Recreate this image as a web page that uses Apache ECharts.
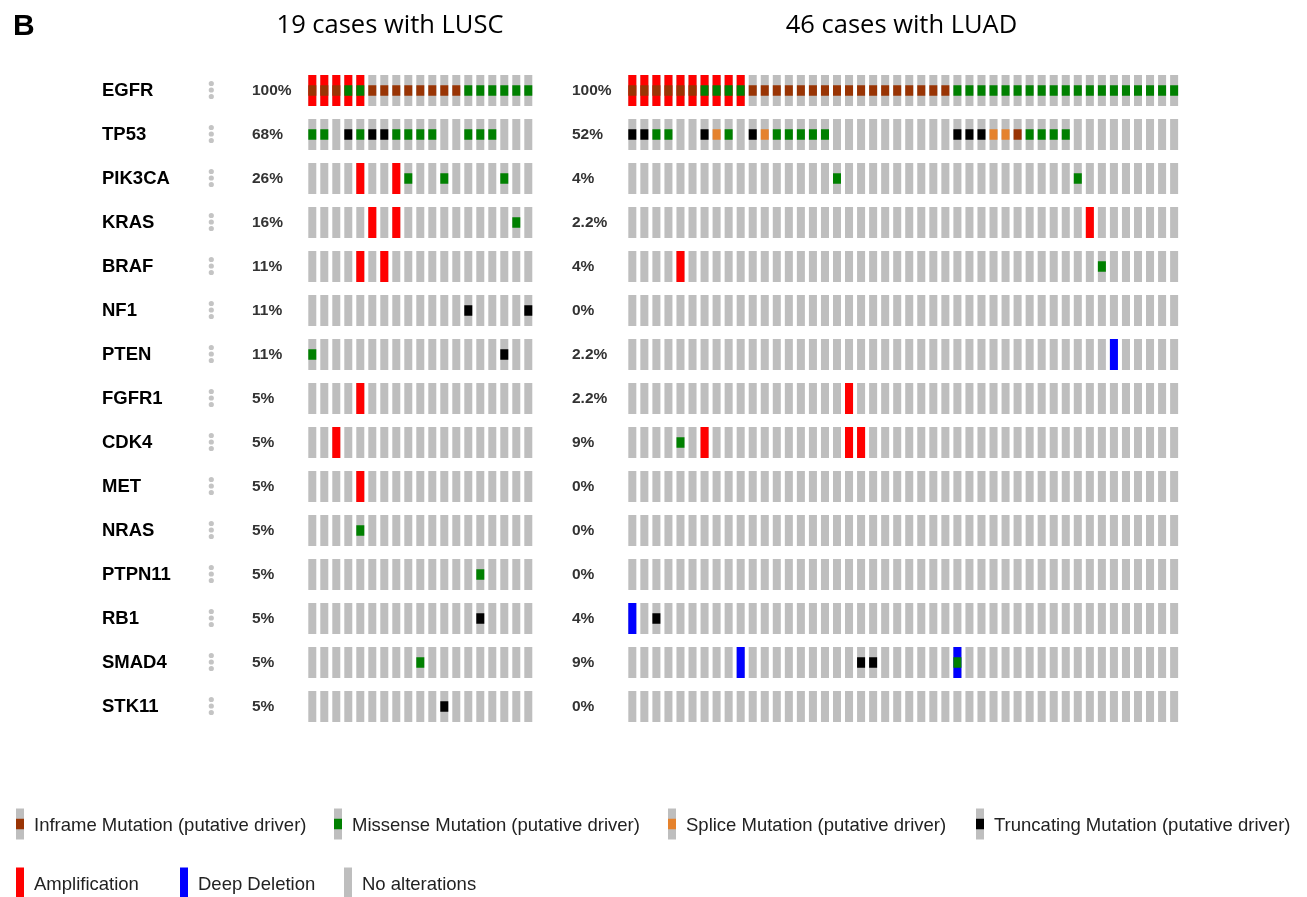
<!DOCTYPE html>
<html>
<head>
<meta charset="utf-8">
<script src="https://cdn.jsdelivr.net/npm/echarts@6/dist/echarts.min.js"></script>
<style>
  html, body { margin: 0; padding: 0; background: #ffffff; }
  #chart { width: 1307px; height: 897px; }
</style>
</head>
<body>
<div id="chart"></div>
<script>
// ---- data ----------------------------------------------------------------
const genes = ['EGFR', 'TP53', 'PIK3CA', 'KRAS', 'BRAF', 'NF1', 'PTEN', 'FGFR1',
               'CDK4', 'MET', 'NRAS', 'PTPN11', 'RB1', 'SMAD4', 'STK11'];

const luscCaseCount = 19;
const luadCaseCount = 46;

const luscPercent = ['100%', '68%', '26%', '16%', '11%', '11%', '11%', '5%',
                     '5%', '5%', '5%', '5%', '5%', '5%', '5%'];
const luadPercent = ['100%', '52%', '4%', '2.2%', '4%', '0%', '2.2%', '2.2%',
                     '9%', '0%', '0%', '0%', '4%', '9%', '0%'];

// [gene, alteration, case indices]
const luscAlterations = [
  ['EGFR', 'AMP', [0, 1, 2, 3, 4]],
  ['EGFR', 'INFRAME', [0, 1, 2, 5, 6, 7, 8, 9, 10, 11, 12]],
  ['EGFR', 'MISSENSE', [3, 4, 13, 14, 15, 16, 17, 18]],
  ['TP53', 'MISSENSE', [0, 1, 4, 7, 8, 9, 10, 13, 14, 15]],
  ['TP53', 'TRUNC', [3, 5, 6]],
  ['PIK3CA', 'AMP', [4, 7]],
  ['PIK3CA', 'MISSENSE', [8, 11, 16]],
  ['KRAS', 'AMP', [5, 7]],
  ['KRAS', 'MISSENSE', [17]],
  ['BRAF', 'AMP', [4, 6]],
  ['NF1', 'TRUNC', [13, 18]],
  ['PTEN', 'MISSENSE', [0]],
  ['PTEN', 'TRUNC', [16]],
  ['FGFR1', 'AMP', [4]],
  ['CDK4', 'AMP', [2]],
  ['MET', 'AMP', [4]],
  ['NRAS', 'MISSENSE', [4]],
  ['PTPN11', 'MISSENSE', [14]],
  ['RB1', 'TRUNC', [14]],
  ['SMAD4', 'MISSENSE', [9]],
  ['STK11', 'TRUNC', [11]]
];

const luadAlterations = [
  ['EGFR', 'AMP', [0, 1, 2, 3, 4, 5, 6, 7, 8, 9]],
  ['EGFR', 'INFRAME', [0, 1, 2, 3, 4, 5, 10, 11, 12, 13, 14, 15, 16, 17, 18, 19,
                       20, 21, 22, 23, 24, 25, 26]],
  ['EGFR', 'MISSENSE', [6, 7, 8, 9, 27, 28, 29, 30, 31, 32, 33, 34, 35, 36, 37,
                        38, 39, 40, 41, 42, 43, 44, 45]],
  ['TP53', 'TRUNC', [0, 1, 6, 10, 27, 28, 29]],
  ['TP53', 'MISSENSE', [2, 3, 8, 12, 13, 14, 15, 16, 33, 34, 35, 36]],
  ['TP53', 'SPLICE', [7, 11, 30, 31]],
  ['TP53', 'INFRAME', [32]],
  ['PIK3CA', 'MISSENSE', [17, 37]],
  ['KRAS', 'AMP', [38]],
  ['BRAF', 'AMP', [4]],
  ['BRAF', 'MISSENSE', [39]],
  ['PTEN', 'HOMDEL', [40]],
  ['FGFR1', 'AMP', [18]],
  ['CDK4', 'AMP', [6, 18, 19]],
  ['CDK4', 'MISSENSE', [4]],
  ['RB1', 'HOMDEL', [0]],
  ['RB1', 'TRUNC', [2]],
  ['SMAD4', 'HOMDEL', [9, 27]],
  ['SMAD4', 'TRUNC', [19, 20]],
  ['SMAD4', 'MISSENSE', [27]]
];

const alterationCodes = ['AMP', 'HOMDEL', 'INFRAME', 'MISSENSE', 'SPLICE', 'TRUNC'];
const alterationColors = ['#ff0000', '#0000ff', '#993404', '#008000', '#e5822d', '#000000'];
const noAlterationColor = '#bebebe';

// legend rows: [label, alteration code or 'NONE']
const legendRow1 = [
  ['Inframe Mutation (putative driver)', 'INFRAME'],
  ['Missense Mutation (putative driver)', 'MISSENSE'],
  ['Splice Mutation (putative driver)', 'SPLICE'],
  ['Truncating Mutation (putative driver)', 'TRUNC']
];
const legendRow2 = [
  ['Amplification', 'AMP'],
  ['Deep Deletion', 'HOMDEL'],
  ['No alterations', 'NONE']
];

// ---- layout --------------------------------------------------------------
const PITCH_LUSC = 12.0;
const PITCH_LUAD = 12.04;
const GRID_TOP = 68.5;
const ROW_PITCH = 44;
const LUSC_LEFT = 306.3;
const LUAD_LEFT = 626.3;
const CELL_W = 8 / 12;      // fraction of a column band
const CELL_H = 31 / 44;     // fraction of a row band
const MUT_H = 10.5 / 44;    // fraction of a row band
const LEGEND_X1 = [16, 334, 668, 976];
const LEGEND_X2 = [16, 180, 344];
const LEGEND_Y1 = 824;
const LEGEND_Y2 = 883;
const LEGEND_FONT = '18.5px "Liberation Sans", Arial, sans-serif';
const TITLE_FONT = '25.5px "Open Sans", sans-serif';

const isCNA = code => code === 'AMP' || code === 'HOMDEL';

function range(n) { return Array.from({ length: n }, (_, i) => i); }

function backgroundCells(n) {
  const out = [];
  genes.forEach((g, gi) => range(n).forEach(c => out.push([c, gi])));
  return out;
}

function alterationCells(list, wantCNA) {
  const out = [];
  list.forEach(([gene, code, cases]) => {
    if (isCNA(code) !== wantCNA) return;
    const gi = genes.indexOf(gene);
    const ti = alterationCodes.indexOf(code);
    cases.forEach(c => out.push([c, gi, ti]));
  });
  return out;
}

function cellRenderer(kind) {
  return function (params, api) {
    const p = api.coord([api.value(0), api.value(1)]);
    const band = api.size([1, 1]);
    const w = band[0] * CELL_W;
    const fullH = band[1] * CELL_H;
    const h = kind === 'mut' ? band[1] * MUT_H : fullH;
    const fill = kind === 'bg' ? noAlterationColor : alterationColors[api.value(2)];
    return {
      type: 'rect',
      shape: { x: p[0] - w / 2, y: p[1] - h / 2, width: w, height: h },
      style: { fill: fill }
    };
  };
}

function cohortSeries(xIdx, yIdx, n, list) {
  return [
    { type: 'custom', xAxisIndex: xIdx, yAxisIndex: yIdx, renderItem: cellRenderer('bg'),
      data: backgroundCells(n), silent: true, z: 1 },
    { type: 'custom', xAxisIndex: xIdx, yAxisIndex: yIdx, renderItem: cellRenderer('cna'),
      data: alterationCells(list, true), silent: true, z: 2 },
    { type: 'custom', xAxisIndex: xIdx, yAxisIndex: yIdx, renderItem: cellRenderer('mut'),
      data: alterationCells(list, false), silent: true, z: 3 }
  ];
}

// three grey dots next to each gene name
const menuDots = {
  type: 'custom', xAxisIndex: 0, yAxisIndex: 0, silent: true, clip: false, z: 4,
  data: genes.map((g, i) => [0, i]),
  renderItem: function (params, api) {
    const p = api.coord([0, api.value(1)]);
    const x = LUSC_LEFT - 95;
    return {
      type: 'group',
      children: [-7, -0.5, 6].map(dy => ({
        type: 'circle', shape: { cx: x, cy: p[1] + dy, r: 2.6 },
        style: { fill: '#c4c4c4' }
      }))
    };
  }
};

function legendGraphics(row, xs, yc) {
  const out = [];
  row.forEach(([label, code], i) => {
    const x = xs[i];
    const full = code === 'NONE' || isCNA(code);
    const iconH = 31, iconW = 8;
    const bgFill = code === 'NONE' ? noAlterationColor
                 : (isCNA(code) ? alterationColors[alterationCodes.indexOf(code)] : noAlterationColor);
    out.push({ type: 'rect', left: x, top: yc - iconH / 2,
      shape: { width: iconW, height: iconH }, style: { fill: bgFill } });
    if (!full) {
      out.push({ type: 'rect', left: x, top: yc - 5.25,
        shape: { width: iconW, height: 10.5 },
        style: { fill: alterationColors[alterationCodes.indexOf(code)] } });
    }
    out.push({ type: 'text', x: x + 18, y: yc + 2,
      style: { text: label, fill: '#222', font: LEGEND_FONT, textVerticalAlign: 'middle' } });
  });
  return out;
}

const hiddenCategoryX = (n, gridIndex) => ({
  type: 'category', gridIndex: gridIndex, data: range(n).map(String),
  show: false, boundaryGap: true
});

const labelFont = '"Liberation Sans", Arial, sans-serif';

const option = {
  backgroundColor: '#ffffff',
  animation: false,
  grid: [
    { left: LUSC_LEFT, top: GRID_TOP, width: PITCH_LUSC * luscCaseCount, height: ROW_PITCH * genes.length },
    { left: LUAD_LEFT, top: GRID_TOP, width: PITCH_LUAD * luadCaseCount, height: ROW_PITCH * genes.length }
  ],
  xAxis: [hiddenCategoryX(luscCaseCount, 0), hiddenCategoryX(luadCaseCount, 1)],
  yAxis: [
    { // gene names
      type: 'category', gridIndex: 0, data: genes, inverse: true,
      axisLine: { show: false }, axisTick: { show: false }, splitLine: { show: false },
      axisLabel: { align: 'left', margin: LUSC_LEFT - 102, color: '#000',
        fontFamily: labelFont, fontWeight: 'bold', fontSize: 18.5 }
    },
    { // LUSC frequencies
      type: 'category', gridIndex: 0, data: genes, inverse: true, position: 'left', offset: 0,
      axisLine: { show: false }, axisTick: { show: false }, splitLine: { show: false },
      axisLabel: { align: 'left', margin: LUSC_LEFT - 252, color: '#333',
        fontFamily: labelFont, fontWeight: 'bold', fontSize: 15.5,
        formatter: (v, i) => luscPercent[i] }
    },
    { // LUAD frequencies
      type: 'category', gridIndex: 1, data: genes, inverse: true, position: 'left',
      axisLine: { show: false }, axisTick: { show: false }, splitLine: { show: false },
      axisLabel: { align: 'left', margin: LUAD_LEFT - 572, color: '#333',
        fontFamily: labelFont, fontWeight: 'bold', fontSize: 15.5,
        formatter: (v, i) => luadPercent[i] }
    }
  ],
  graphic: [
    { type: 'text', x: 13, y: 27,
      style: { text: 'B', fill: '#000', font: 'bold 30px "Liberation Sans", Arial, sans-serif',
               textVerticalAlign: 'middle' } },
    { type: 'text', x: 390, y: 26,
      style: { text: luscCaseCount + ' cases with LUSC', fill: '#000',
               font: TITLE_FONT, textAlign: 'center', textVerticalAlign: 'middle' } },
    { type: 'text', x: 901.5, y: 26,
      style: { text: luadCaseCount + ' cases with LUAD', fill: '#000',
               font: TITLE_FONT, textAlign: 'center', textVerticalAlign: 'middle' } }
  ].concat(legendGraphics(legendRow1, LEGEND_X1, LEGEND_Y1))
   .concat(legendGraphics(legendRow2, LEGEND_X2, LEGEND_Y2)),
  series: []
    .concat(cohortSeries(0, 0, luscCaseCount, luscAlterations))
    .concat(cohortSeries(1, 2, luadCaseCount, luadAlterations))
    .concat([menuDots])
};

const chart = echarts.init(document.getElementById('chart'), null, { renderer: 'canvas' });
chart.setOption(option);
</script>
</body>
</html>
